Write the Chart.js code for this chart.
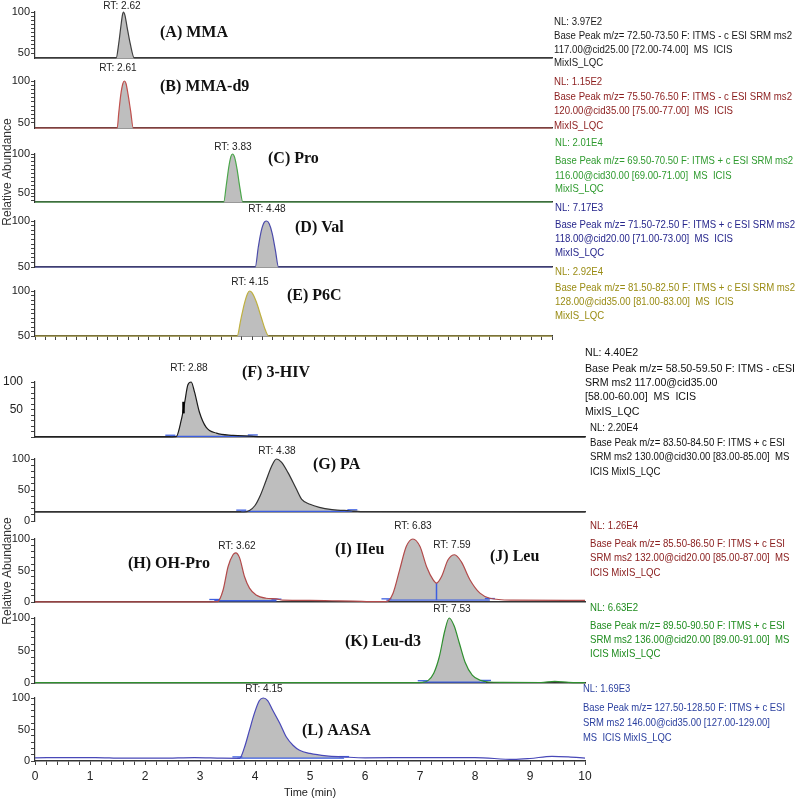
<!DOCTYPE html>
<html><head><meta charset="utf-8">
<script src="https://cdn.jsdelivr.net/npm/chart.js@4.4.1/dist/chart.umd.min.js"></script>
<style>
html,body{margin:0;padding:0;background:#fff;}
#wrap{position:relative;width:800px;height:801px;overflow:hidden;background:#fff;}
#wrap canvas{position:absolute;left:0;}
</style></head><body><div id="wrap"></div>
<script>
// ================= DATA =================
// Upper figure (A–E): time (min) and relative abundance (%)
const tA = [0, 1.50, 1.57, 1.62, 1.66, 1.69, 1.71, 1.74, 1.78, 1.84, 1.92, 2.00, 10];
const yA = [44, 44, 44, 62, 82, 96, 100, 96, 82, 62, 44, 44, 44];
const tB = [0, 1.52, 1.59, 1.62, 1.66, 1.70, 1.73, 1.76, 1.80, 1.85, 1.90, 2.00, 10];
const yB = [44, 44, 44, 62, 84, 97, 100, 97, 84, 64, 44, 44, 44];
const tC = [0, 3.58, 3.65, 3.70, 3.75, 3.79, 3.82, 3.86, 3.91, 3.96, 4.02, 4.10, 10];
const yC = [38.5, 38.5, 38.5, 60, 84, 97, 100, 96, 80, 58, 38.5, 38.5, 38.5];
const tD = [0, 4.20, 4.26, 4.32, 4.38, 4.44, 4.48, 4.53, 4.59, 4.65, 4.71, 4.78, 10];
const yD = [50, 50, 50, 72, 90, 99, 100, 97, 86, 68, 50, 50, 50];
const tE = [0, 3.85, 3.91, 3.98, 4.05, 4.11, 4.15, 4.20, 4.28, 4.38, 4.46, 4.52, 4.60, 10];
const yE = [50, 50, 50, 68, 86, 97, 100, 98, 88, 70, 56, 50, 50, 50];

// Lower figure (F–L)
const tF = [0, 2.40, 2.57, 2.66, 2.72, 2.78, 2.84, 2.90, 2.99, 3.11, 3.30, 3.60, 3.90, 4.10, 10];
const yF = [0.3, 0.3, 0.8, 31, 62, 95, 100, 82, 45, 18, 7, 3, 1.5, 0.5, 0.3];
const tG = [0, 3.80, 3.90, 4.00, 4.10, 4.20, 4.30, 4.39, 4.48, 4.60, 4.75, 4.85, 5.00, 5.17, 5.40, 5.72, 6.00, 10];
const yG = [14.5, 14.5, 17, 25, 42, 65, 88, 100, 95, 78, 52, 35, 27, 22, 18.5, 16.5, 15, 14.5];
const tH = [0, 3.20, 3.32, 3.42, 3.51, 3.60, 3.65, 3.72, 3.81, 3.90, 4.02, 4.20, 4.39, 4.50, 5.00, 5.40, 5.78, 6.20,
            6.39, 6.51, 6.63, 6.75, 6.87, 7.00, 7.12, 7.24, 7.30, 7.39, 7.51, 7.63, 7.75, 7.91, 8.09, 8.27, 8.69, 9.90, 10];
const yH = [0.3, 0.3, 0.5, 19, 56, 75, 78, 70, 40, 22, 11, 6, 5, 3, 2.5, 2, 1.5, 0.5,
            0.5, 14, 51, 88, 100, 88, 56, 35, 30, 40, 67, 75, 64, 35, 14, 6, 3, 2.5, 2.5];
const tK = [0, 6.90, 7.05, 7.15, 7.25, 7.35, 7.45, 7.53, 7.62, 7.72, 7.82, 7.95, 8.10, 8.25, 8.50, 9.20, 9.45, 9.70, 10];
const yK = [0.5, 0.5, 1, 4, 15, 40, 80, 100, 88, 60, 32, 12, 4, 1.5, 1, 0.8, 2.5, 1, 0.5];
const tL = [0, 0.65, 1.10, 1.60, 2.30, 2.90, 3.40, 3.72, 3.81, 3.90, 3.99, 4.08, 4.15, 4.23, 4.32, 4.45, 4.57, 4.69, 4.81,
            5.00, 5.30, 5.60, 6.00, 7.00, 8.00, 8.70, 9.00, 9.40, 9.70, 10];
const yL = [5, 5.5, 5.5, 4.5, 4.5, 5.5, 4.5, 4.3, 22, 49, 76, 96, 100, 96, 81, 60, 38, 25, 17,
            12, 8, 6.5, 5, 5.5, 5.5, 2.5, 4, 7.5, 6.5, 4.5];

// Integration windows: [start, end, baseline level]
const intF = [[2.46, 3.96, 1.2]];
const intG = [[3.75, 5.77, 15.5]];
const intH = [[3.26, 4.39, 2], [6.39, 8.27, 3]];
const intK = [[7.05, 8.20, 1.5]];
const intL = [[3.68, 5.62, 4.5]];
const dropIJ = [7.30, 3, 30];        // valley drop line (t, from, to)
const markF = [2.70, 43, 64];         // short black mark on 3-HIV rising edge

// Tick values / labels
const yLabelsTop = [50, 100];
const yLabelsF = [50, 100];
const yLabelsBottom = [0, 50, 100];
const xMajorLabels = [0, 1, 2, 3, 4, 5, 6, 7, 8, 9, 10];
const xMinorStep = 0.2;

// Text
const rtA = ['RT: 2.62'], rtB = ['RT: 2.61'], rtC = ['RT: 3.83'], rtD = ['RT: 4.48'], rtE = ['RT: 4.15'];
const rtF = ['RT: 2.88'], rtG = ['RT: 4.38'], rtH = ['RT: 3.62', 'RT: 6.83', 'RT: 7.59'], rtK = ['RT: 7.53'], rtL = ['RT: 4.15'];
const nameA = ['(A) MMA'], nameB = ['(B) MMA-d9'], nameC = ['(C) Pro'], nameD = ['(D) Val'], nameE = ['(E) P6C'];
const nameF = ['(F) 3-HIV'], nameG = ['(G) PA'], nameH = ['(H) OH-Pro', '(I) IIeu', '(J) Leu'], nameK = ['(K) Leu-d3'], nameL = ['(L) AASA'];
const infoA = ['NL: 3.97E2', 'Base Peak m/z= 72.50-73.50 F: ITMS - c ESI SRM ms2', '117.00@cid25.00 [72.00-74.00]  MS  ICIS', 'MixIS_LQC'];
const infoB = ['NL: 1.15E2', 'Base Peak m/z= 75.50-76.50 F: ITMS - c ESI SRM ms2', '120.00@cid35.00 [75.00-77.00]  MS  ICIS', 'MixIS_LQC'];
const infoC = ['NL: 2.01E4', 'Base Peak m/z= 69.50-70.50 F: ITMS + c ESI SRM ms2', '116.00@cid30.00 [69.00-71.00]  MS  ICIS', 'MixIS_LQC'];
const infoD = ['NL: 7.17E3', 'Base Peak m/z= 71.50-72.50 F: ITMS + c ESI SRM ms2', '118.00@cid20.00 [71.00-73.00]  MS  ICIS', 'MixIS_LQC'];
const infoE = ['NL: 2.92E4', 'Base Peak m/z= 81.50-82.50 F: ITMS + c ESI SRM ms2', '128.00@cid35.00 [81.00-83.00]  MS  ICIS', 'MixIS_LQC'];
const infoF = ['NL: 4.40E2', 'Base Peak m/z= 58.50-59.50 F: ITMS - cESI', 'SRM ms2 117.00@cid35.00', '[58.00-60.00]  MS  ICIS', 'MixIS_LQC'];
const infoG = ['NL: 2.20E4', 'Base Peak m/z= 83.50-84.50 F: ITMS + c ESI', 'SRM ms2 130.00@cid30.00 [83.00-85.00]  MS', 'ICIS MixIS_LQC'];
const infoH = ['NL: 1.26E4', 'Base Peak m/z= 85.50-86.50 F: ITMS + c ESI', 'SRM ms2 132.00@cid20.00 [85.00-87.00]  MS', 'ICIS MixIS_LQC'];
const infoK = ['NL: 6.63E2', 'Base Peak m/z= 89.50-90.50 F: ITMS + c ESI', 'SRM ms2 136.00@cid20.00 [89.00-91.00]  MS', 'ICIS MixIS_LQC'];
const infoL = ['NL: 1.69E3', 'Base Peak m/z= 127.50-128.50 F: ITMS + c ESI', 'SRM ms2 146.00@cid35.00 [127.00-129.00]', 'MS  ICIS MixIS_LQC'];
const yTitle = 'Relative Abundance';
const xTitle = 'Time (min)';

// ================= LAYOUT / STYLE =================
const FILL = '#bebebe', INTC = '#3c5ee0';
const panels = [
  {t:tA, y:yA, fig:'top', color:'#404040', tc:'#1a1a1a', ymin:44, p100:12, pBot:58, yFirst:50, yStep:5, yLab:yLabelsTop, x:'line',
   info:infoA, ix:554, iy:[22,36,50,63], iw:238, rt:rtA, rtPos:[[122,6]], names:nameA, nPos:[[160,33]]},
  {t:tB, y:yB, fig:'top', color:'#c0504d', tc:'#8b1c1c', ymin:44, p100:81, pBot:128, yFirst:50, yStep:5, yLab:yLabelsTop, x:'line',
   info:infoB, ix:554, iy:[82,97,111,126], iw:238, rt:rtB, rtPos:[[118,68]], names:nameB, nPos:[[160,87]]},
  {t:tC, y:yC, fig:'top', color:'#4aa64a', tc:'#2e9a2e', ymin:38.5, p100:154, pBot:202, yFirst:40, yStep:5, yLab:yLabelsTop, x:'line',
   info:infoC, ix:555, iy:[143,161,176,189], iw:238, rt:rtC, rtPos:[[233,147]], names:nameC, nPos:[[268,159]], vt:[8,172]},
  {t:tD, y:yD, fig:'top', color:'#4b4baa', tc:'#26268c', ymin:50, p100:221, pBot:267, yFirst:50, yStep:5, yLab:yLabelsTop, x:'line',
   info:infoD, ix:555, iy:[208,225,239,253], iw:240, rt:rtD, rtPos:[[267,209]], names:nameD, nPos:[[295,228]]},
  {t:tE, y:yE, fig:'top', color:'#bfb040', tc:'#9a8c14', ymin:50, p100:291, pBot:336, yFirst:50, yStep:5, yLab:yLabelsTop, x:'ticks',
   info:infoE, ix:555, iy:[272,288,302,316], iw:240, rt:rtE, rtPos:[[250,282]], names:nameE, nPos:[[287,296]]},
  {t:tF, y:yF, fig:'bot', color:'#1a1a1a', tc:'#111111', ymin:0, p100:382, pBot:437, yFirst:0, yStep:10, yLab:yLabelsF, x:'line', yPad:8, yFont:12,
   ints:intF, mark:markF, info:infoF, ix:585, iy:[353,369,383,397,412], iw:210, rt:rtF, rtPos:[[189,368]], names:nameF, nPos:[[242,373]]},
  {t:tG, y:yG, fig:'bot', color:'#333333', tc:'#111111', ymin:0, p100:459, pBot:521, yFirst:0, yStep:10, yLab:yLabelsBottom, x:'line', xAt:14.5,
   ints:intG, info:infoG, ix:590, iy:[428,443,457,472], iw:195, rt:rtG, rtPos:[[277,451]], names:nameG, nPos:[[313,465]]},
  {t:tH, y:yH, fig:'bot', color:'#b24a4a', tc:'#8b2020', ymin:0, p100:539, pBot:602, yFirst:0, yStep:10, yLab:yLabelsBottom, x:'line',
   ints:intH, drop:dropIJ, info:infoH, ix:590, iy:[526,544,558,573], iw:195, rt:rtH, rtPos:[[237,546],[413,526],[452,545]],
   names:nameH, nPos:[[128,564],[335,550],[490,557]], vt:[8,571]},
  {t:tK, y:yK, fig:'bot', color:'#2f8f2f', tc:'#1e8c1e', ymin:0, p100:618, pBot:683, yFirst:0, yStep:10, yLab:yLabelsBottom, x:'line',
   ints:intK, info:infoK, ix:590, iy:[608,626,640,654], iw:195, rt:rtK, rtPos:[[452,609]], names:nameK, nPos:[[345,642]]},
  {t:tL, y:yL, fig:'bot', color:'#4848b8', tc:'#2a3f9f', ymin:0, p100:698, pBot:761, yFirst:0, yStep:10, yLab:yLabelsBottom, x:'labels',
   ints:intL, info:infoL, ix:583, iy:[689,708,723,738], iw:202, rt:rtL, rtPos:[[264,689]], names:nameL, nPos:[[302,731]]}
];

const wrap = document.getElementById('wrap');
const SANS = "'Liberation Sans', Arial, sans-serif";
const SERIF = "'Liberation Serif', 'Times New Roman', serif";
const pts = (ts, ys) => ts.map((t, i) => ({x: t, y: ys[i]}));
const xTickVals = [];
for (let i = 0; i <= Math.round(10 / xMinorStep); i++) xTickVals.push(+(i * xMinorStep).toFixed(2));

function scaledText(ctx, text, x, y, sx) {
  ctx.save(); ctx.translate(x, y); ctx.scale(sx, 1); ctx.fillText(text, 0, 0); ctx.restore();
}

function makePanel(P) {
  let top = P.p100 - 40;
  const xH = P.x === 'labels' ? 40 : (P.x === 'ticks' ? 6 : 0);
  let bottom = P.x === 'labels' ? 801 : P.pBot + xH + 16;
  if (P.vt) { top = Math.min(top, P.vt[1] - 66); bottom = Math.max(bottom, P.vt[1] + 66); }
  const H = bottom - top;
  const cv = document.createElement('canvas');
  cv.width = 800; cv.height = H; cv.style.top = top + 'px';
  cv.style.width = '800px'; cv.style.height = H + 'px';
  wrap.appendChild(cv);
  const rightEdge = P.fig === 'top' ? 552 : 585;

  const datasets = [];
  datasets.push({data: pts(P.t, P.y), borderColor: P.color, borderWidth: 1.2, pointRadius: 0,
    fill: P.fig === 'top' ? 'start' : false, backgroundColor: FILL, cubicInterpolationMode: 'monotone', clip: false, order: 1});
  (P.ints || []).forEach(w => {
    const ts = [], ys = [];
    P.t.forEach((t, i) => { if (t >= w[0] && t <= w[1]) { ts.push(t); ys.push(P.y[i]); } });
    datasets.push({data: pts(ts, ys), borderWidth: 0, borderColor: 'rgba(0,0,0,0)', pointRadius: 0,
      fill: {value: w[2]}, backgroundColor: FILL, cubicInterpolationMode: 'monotone', clip: false, order: 5});
    datasets.push({data: pts([w[0], w[1]], [w[2], w[2]]), borderColor: INTC, borderWidth: 1.3, pointRadius: 0,
      fill: false, clip: false, order: 2});
    datasets.push({data: pts([w[0], w[1]], [w[2] + 2, w[2] + 2.5]), showLine: false, pointStyle: 'line', pointRadius: 5,
      pointBorderColor: INTC, pointBorderWidth: 1.3, clip: false, order: 2});
  });
  if (P.drop) datasets.push({data: pts([P.drop[0], P.drop[0]], [P.drop[1], P.drop[2]]), borderColor: INTC, borderWidth: 1.5,
    pointRadius: 0, fill: false, clip: false, order: 2});
  if (P.mark) datasets.push({data: pts([P.mark[0], P.mark[0]], [P.mark[1], P.mark[2]]), borderColor: '#000', borderWidth: 2.5,
    pointRadius: 0, fill: false, clip: false, order: 0});

  const annot = {
    id: 'annot',
    afterDraw(chart) {
      const ctx = chart.ctx;
      ctx.save();
      ctx.textBaseline = 'middle';
      ctx.fillStyle = '#222'; ctx.textAlign = 'center';
      ctx.font = '11px ' + SANS;
      P.rt.forEach((s, i) => scaledText(ctx, s, P.rtPos[i][0], P.rtPos[i][1] - top, 0.92));
      ctx.fillStyle = '#111'; ctx.textAlign = 'left';
      ctx.font = 'bold 16px ' + SERIF;
      P.names.forEach((s, i) => ctx.fillText(s, P.nPos[i][0], P.nPos[i][1] - top));
      ctx.fillStyle = P.tc; ctx.font = '11px ' + SANS;
      const sx = P.iw / ctx.measureText(P.info[1]).width;
      P.info.forEach((s, i) => scaledText(ctx, s, P.ix, P.iy[i] - top, sx));
      if (P.vt) {
        ctx.fillStyle = '#333'; ctx.font = '12px ' + SANS; ctx.textAlign = 'center';
        ctx.translate(P.vt[0], P.vt[1] - top); ctx.rotate(-Math.PI / 2);
        ctx.fillText(yTitle, 0, 0);
      }
      ctx.restore();
    }
  };

  new Chart(cv, {
    type: 'line',
    data: {datasets},
    plugins: [annot],
    options: {
      responsive: false, animation: false, devicePixelRatio: 1, events: [],
      layout: {padding: {top: P.p100 - top, bottom: bottom - P.pBot - xH, left: 0, right: 800 - rightEdge}},
      plugins: {legend: {display: false}, tooltip: {enabled: false}, title: {display: false}},
      scales: {
        x: {
          type: 'linear', min: 0, max: 10, bounds: 'data',
          position: P.xAt !== undefined ? {y: P.xAt} : 'bottom',
          afterFit: s => { s.height = xH; },
          afterBuildTicks: s => { s.ticks = xTickVals.map(v => ({value: v})); },
          ticks: {display: P.x === 'labels', autoSkip: false, maxRotation: 0, padding: 4, color: '#222',
            font: {family: SANS, size: 12},
            callback: v => xMajorLabels.includes(Math.round(v)) && Math.abs(v - Math.round(v)) < 1e-6 ? String(Math.round(v)) : ''},
          grid: {display: P.x !== 'line', drawOnChartArea: false, drawTicks: true, tickLength: 4, color: '#444', lineWidth: 1},
          border: {display: true, color: '#333', width: 1.5},
          title: {display: P.x === 'labels', text: xTitle, color: '#222', font: {family: SANS, size: 11}, padding: {top: 0, bottom: 1}}
        },
        y: {
          type: 'linear', min: P.ymin, max: 100, bounds: 'data',
          afterFit: s => { s.width = 35; },
          afterBuildTicks: s => { const a = []; for (let v = P.yFirst; v <= 100.0001; v += P.yStep) a.push({value: v}); s.ticks = a; },
          ticks: {autoSkip: false, padding: P.yPad || 1, color: '#222', font: {family: SANS, size: P.yFont || 11},
            callback: v => P.yLab.includes(v) ? String(v) : ''},
          grid: {display: true, drawOnChartArea: false, drawTicks: true, tickLength: 4, color: '#444', lineWidth: 1},
          border: {display: true, color: '#333', width: 1.2}
        }
      }
    }
  });
}
panels.forEach(makePanel);
</script>
</body></html>
